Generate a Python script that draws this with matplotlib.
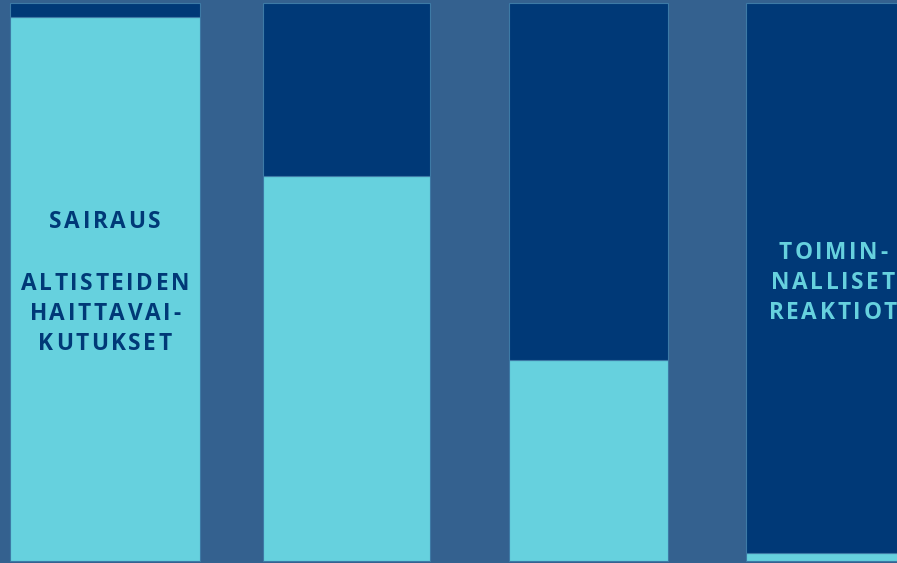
import matplotlib
matplotlib.use("Agg")
import matplotlib.pyplot as plt
from matplotlib.font_manager import FontProperties

# data: share of each bar (percent), light part at the bottom, dark part on top
categories = ["Sairaus", "B", "C", "Toiminnalliset reaktiot"]
light_share = [97.5, 69.0, 36.0, 1.5]
dark_share = [100 - v for v in light_share]

# layout (pixel-like x units)
bar_left = [10, 263, 509, 746]
bar_width = [190, 167, 159, 170]

BG = "#34618f"
LIGHT = "#66d1de"
DARK = "#003977"
EDGE = "#3d7aa6"

fig = plt.figure(figsize=(8.97, 5.63), dpi=100)
fig.patch.set_facecolor(BG)
ax = fig.add_axes([0, 0, 1, 1])
ax.set_facecolor(BG)

ax.bar(bar_left, light_share, width=bar_width, align="edge",
       color=LIGHT, edgecolor=EDGE, linewidth=0.8)
ax.bar(bar_left, dark_share, width=bar_width, bottom=light_share, align="edge",
       color=DARK, edgecolor=EDGE, linewidth=0.8)

ax.set_xlim(0, 897)
ax.set_ylim(-0.36, 100.54)
ax.axis("off")

fp = FontProperties(family="Open Sans", weight="bold", size=16.3)


def spaced_text(x, y, s, color, spacing=2.6):
    # draw a line of text with extra letter spacing, centred on x
    fig.canvas.draw()
    r = fig.canvas.get_renderer()
    widths = []
    for ch in s:
        t = ax.text(0, 0, ch, fontproperties=fp)
        widths.append(t.get_window_extent(r).width)
        t.remove()
    total = sum(widths) + spacing * (len(s) - 1)
    px = ax.transData.transform((x, y))
    cur = px[0] - total / 2
    for ch, w in zip(s, widths):
        dx, dy = ax.transData.inverted().transform((cur, px[1]))
        ax.text(dx, dy, ch, fontproperties=fp, color=color,
                ha="left", va="center")
        cur += w + spacing


spaced_text(105, 60.7, "SAIRAUS", DARK)
spaced_text(105, 49.6, "ALTISTEIDEN", DARK)
spaced_text(105, 44.2, "HAITTAVAI-", DARK)
spaced_text(105, 38.8, "KUTUKSET", DARK)

spaced_text(833, 55.2, "TOIMIN-", LIGHT)
spaced_text(833, 49.8, "NALLISET", LIGHT)
spaced_text(833, 44.4, "REAKTIOT", LIGHT)

fig.savefig("out.png", dpi=100, facecolor=BG)
